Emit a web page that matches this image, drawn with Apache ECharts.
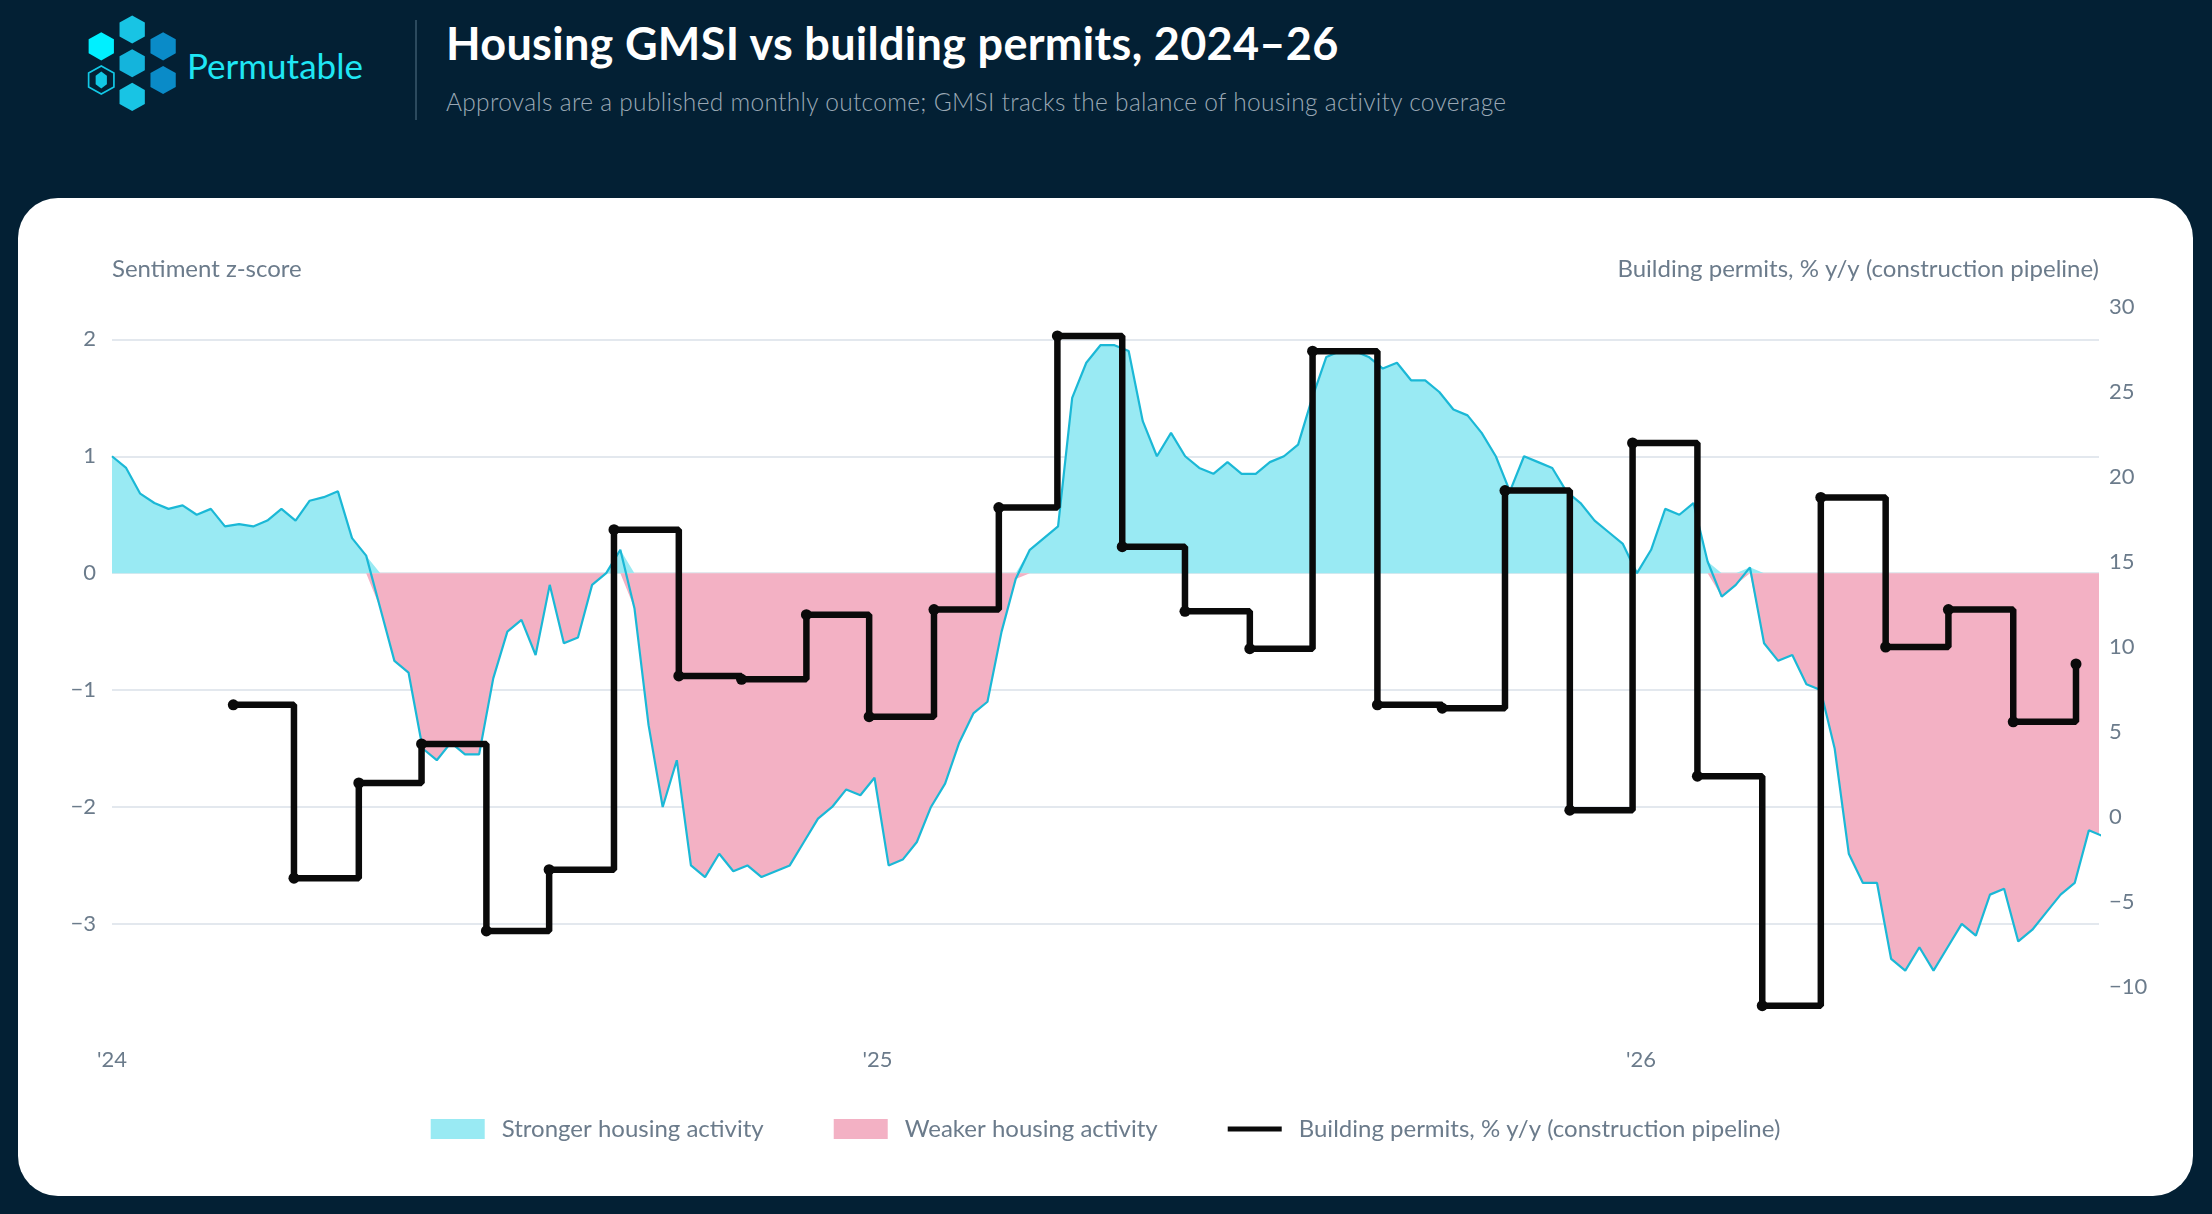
<!DOCTYPE html>
<html lang="en">
<head>
<meta charset="UTF-8">
<title>Housing GMSI vs building permits</title>
<script src="https://cdn.jsdelivr.net/npm/echarts@6/dist/echarts.min.js"></script>
<style>
    html, body { margin: 0; padding: 0; }
    body { width: 2212px; height: 1214px; background: #032034; font-family: Lato, "Noto Sans", sans-serif; position: relative; overflow: hidden; }
    .logo { position: absolute; left: 84px; top: 14px; width: 102px; height: 104px; }
    .brand { position: absolute; left: 187px; top: 44px; font-size: 35px; color: #1fe6f4; }
    .divider { position: absolute; left: 415px; top: 20px; width: 2px; height: 100px; background: #2c4a5e; }
    .title { position: absolute; left: 446px; top: 16px; font-size: 45px; font-weight: bold; color: #ffffff; letter-spacing: 0.3px; }
    .sub { position: absolute; left: 446px; top: 87px; font-size: 24.5px; color: #9aa8b5; font-weight: 300; letter-spacing: 0.3px; }
    .card { position: absolute; left: 18px; top: 198px; width: 2175px; height: 998px; background: #ffffff; border-radius: 40px; }
    #chart { width: 2175px; height: 998px; }
</style>
</head>
<body>
<svg class="logo" viewBox="0 0 72 74">
    <polygon points="12,13 21,18 21,28 12,33 3,28 3,18" fill="#00f0ff"/>
    <polygon points="12,37 21,42 21,52 12,57 3,52 3,42" fill="none" stroke="#12c8e6" stroke-width="1.2"/>
    <polygon points="12,41 16,44 16,50 12,53 8,50 8,44" fill="#12c8e6"/>
    <polygon points="34,1 43,6 43,16 34,21 25,16 25,6" fill="#18c4e4"/>
    <polygon points="34,25 43,30 43,40 34,45 25,40 25,30" fill="#14b4dc"/>
    <polygon points="34,49 43,54 43,64 34,69 25,64 25,54" fill="#18c4e4"/>
    <polygon points="56,13 65,18 65,28 56,33 47,28 47,18" fill="#0a8bc8"/>
    <polygon points="56,37 65,42 65,52 56,57 47,52 47,42" fill="#0a8bc8"/>
</svg>
<div class="brand">Permutable</div>
<div class="divider"></div>
<div class="title">Housing GMSI vs building permits, 2024–26</div>
<div class="sub">Approvals are a published monthly outcome; GMSI tracks the balance of housing activity coverage</div>
<div class="card"><div id="chart"></div></div>
<script>
    // GMSI sentiment z-score, every ~6.75 days from 2024-01-01
    var gmsiStart = '2024-01-01';
    var gmsiStepDays = 6.751;
    var gmsiValues = [1.0, 0.9, 0.68, 0.6, 0.55, 0.58, 0.5, 0.55, 0.4, 0.42,
        0.4, 0.45, 0.55, 0.45, 0.62, 0.65, 0.7, 0.3, 0.15, -0.3,
        -0.75, -0.85, -1.5, -1.6, -1.45, -1.55, -1.55, -0.9, -0.5, -0.4,
        -0.7, -0.1, -0.6, -0.55, -0.1, 0.0, 0.2, -0.3, -1.3, -2.0,
        -1.6, -2.5, -2.6, -2.4, -2.55, -2.5, -2.6, -2.55, -2.5, -2.3,
        -2.1, -2.0, -1.85, -1.9, -1.75, -2.5, -2.45, -2.3, -2.0, -1.8,
        -1.45, -1.2, -1.1, -0.5, -0.05, 0.2, 0.3, 0.4, 1.5, 1.8,
        1.95, 1.95, 1.9, 1.3, 1.0, 1.2, 1.0, 0.9, 0.85, 0.95,
        0.85, 0.85, 0.95, 1.0, 1.1, 1.5, 1.85, 1.9, 1.9, 1.85,
        1.75, 1.8, 1.65, 1.65, 1.55, 1.4, 1.35, 1.2, 1.0, 0.7,
        1.0, 0.95, 0.9, 0.7, 0.6, 0.45, 0.35, 0.25, 0.0, 0.2,
        0.55, 0.5, 0.6, 0.1, -0.2, -0.1, 0.05, -0.6, -0.75, -0.7,
        -0.95, -1.0, -1.5, -2.4, -2.65, -2.65, -3.3, -3.4, -3.2, -3.4,
        -3.2, -3.0, -3.1, -2.75, -2.7, -3.15, -3.05, -2.9, -2.75, -2.65,
        -2.2, -2.25];

    // building permits, % y/y, monthly releases
    var permitDates = ['2024-02-28', '2024-03-28', '2024-04-28', '2024-05-28', '2024-06-28', '2024-07-28',
        '2024-08-28', '2024-09-28', '2024-10-28', '2024-11-28', '2024-12-28', '2025-01-28',
        '2025-02-28', '2025-03-28', '2025-04-28', '2025-05-28', '2025-06-28', '2025-07-28',
        '2025-08-28', '2025-09-28', '2025-10-28', '2025-11-28', '2025-12-28', '2026-01-28',
        '2026-02-28', '2026-03-28', '2026-04-28', '2026-05-28', '2026-06-28', '2026-07-28'];
    var permitValues = [6.6, -3.6, 2.0, 4.3, -6.7, -3.1, 16.9, 8.3, 8.1, 11.9,
        5.9, 12.2, 18.2, 28.3, 15.9, 12.1, 9.9, 27.4, 6.6, 6.4,
        19.2, 0.4, 22.0, 2.4, -11.1, 18.8, 10.0, 12.2, 5.6, 9.0];

    var yearTicks = ['2024-01-01', '2025-01-01', '2026-01-01'];

    var DAY = 86400000;
    var ms = function (d) { return new Date(d + 'T00:00:00Z').getTime(); };
    var t0 = ms(gmsiStart);
    var gmsi = gmsiValues.map(function (v, i) { return [t0 + i * gmsiStepDays * DAY, v]; });
    var gmsiPos = gmsi.map(function (p) { return [p[0], Math.max(p[1], 0)]; });
    var gmsiNeg = gmsi.map(function (p) { return [p[0], Math.min(p[1], 0)]; });
    var permits = permitDates.map(function (d, i) { return [ms(d), permitValues[i]]; });
    var yearMs = yearTicks.map(ms);

    var grey = '#6b7b8b';
    var chart = echarts.init(document.getElementById('chart'));
    chart.setOption({
        animation: false,
        textStyle: { fontFamily: 'Lato, "Noto Sans", sans-serif' },
        grid: { left: 94, right: 94, top: 109, bottom: 175 },
        graphic: [
            { type: 'text', left: 94, top: 59, style: { text: 'Sentiment z-score', fontSize: 24, fill: grey, fontFamily: 'Lato' } },
            { type: 'text', right: 94, top: 59, style: { text: 'Building permits, % y/y (construction pipeline)', fontSize: 24, fill: grey, fontFamily: 'Lato' } }
        ],
        legend: {
            bottom: 50, left: 'center', itemGap: 70, itemWidth: 54, itemHeight: 20,
            textStyle: { fontSize: 24, color: grey, padding: [0, 0, 0, 12] },
            data: [
                { name: 'Stronger housing activity', icon: 'rect' },
                { name: 'Weaker housing activity', icon: 'rect' },
                { name: 'Building permits, % y/y (construction pipeline)', icon: 'path://M0,8H54V13H0Z' }
            ]
        },
        xAxis: {
            type: 'value', min: t0, max: ms('2026-08-08'),
            axisLine: { show: false }, axisTick: { show: false }, splitLine: { show: false },
            axisLabel: {
                fontSize: 22, color: grey, margin: 28,
                customValues: yearMs,
                formatter: function (v) { return "'" + String(new Date(v).getUTCFullYear()).slice(2); }
            }
        },
        yAxis: [{
            type: 'value', min: -3.831, max: 2.277, splitNumber: 6,
            axisLine: { show: false }, axisTick: { show: false },
            axisLabel: { fontSize: 22, color: grey, margin: 16, showMinLabel: false, showMaxLabel: false,
                formatter: function (v) { return v < 0 ? '\u2212' + (-v) : v; } },
            splitLine: { show: true, showMinLine: false, showMaxLine: false, lineStyle: { color: '#e3e8ee', width: 2 } }
        }, {
            type: 'value', min: -12, max: 30, splitNumber: 8, position: 'right',
            axisLine: { show: false }, axisTick: { show: false },
            axisLabel: { fontSize: 22, color: grey, margin: 10, showMinLabel: false,
                formatter: function (v) { return v < 0 ? '\u2212' + (-v) : v; } },
            splitLine: { show: false }
        }],
        series: [{
            name: 'Stronger housing activity', type: 'line', data: gmsiPos, yAxisIndex: 0,
            symbol: 'none', lineStyle: { width: 0 }, itemStyle: { color: '#99eaf3' },
            areaStyle: { color: '#99eaf3', opacity: 1 }
        }, {
            name: 'Weaker housing activity', type: 'line', data: gmsiNeg, yAxisIndex: 0,
            symbol: 'none', lineStyle: { width: 0 }, itemStyle: { color: '#f3b1c4' },
            areaStyle: { color: '#f3b1c4', opacity: 1 }
        }, {
            name: 'GMSI', type: 'line', data: gmsi, yAxisIndex: 0,
            symbol: 'none', lineStyle: { width: 2.2, color: '#1bb8d6' }
        }, {
            name: 'Building permits, % y/y (construction pipeline)', type: 'line', data: permits,
            yAxisIndex: 1, step: 'end', symbol: 'circle', symbolSize: 11,
            lineStyle: { width: 6.5, color: '#0a0a0a' }, itemStyle: { color: '#0a0a0a' }
        }]
    });
</script>
</body>
</html>
